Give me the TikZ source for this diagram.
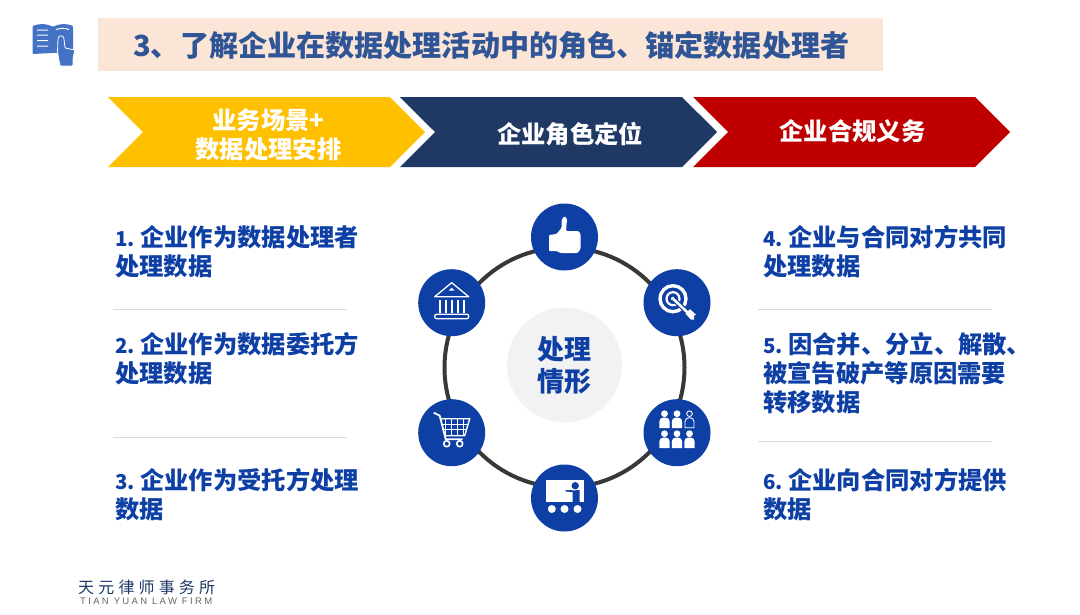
\documentclass[tikz,border=0pt]{standalone}
\usepackage{fontspec}
\setmainfont{Noto Sans CJK SC}
\newfontfamily\logofont[LetterSpace=26]{Noto Sans CJK SC}
\newfontfamily\firmfont[LetterSpace=24.5]{Liberation Sans}
\usetikzlibrary{positioning, shapes.symbols}

\definecolor{titleblue}{HTML}{2F5597}
\definecolor{itemblue}{HTML}{0D3FA5}
\definecolor{bookblue}{HTML}{4472C4}
\definecolor{navy}{HTML}{1F3864}
\definecolor{peach}{HTML}{FBE5D6}
\definecolor{amber}{HTML}{FFC000}

\newcommand{\itemno}[1]{\makebox[25pt][l]{\fontsize{20.5}{29}\selectfont #1}}

\tikzset{
    chevron/.style={signal, signal from=west, signal to=east, signal pointer angle=90,
        minimum width=317pt, minimum height=70pt, inner sep=0pt, outer sep=0pt},
    steptext/.style={inner sep=0pt, text=white, align=center,
        font=\bfseries\fontsize{24.3}{29}\selectfont},
    item/.style={anchor=north west, inner sep=0pt, align=left, text=itemblue,
        font=\bfseries\fontsize{24.3}{29}\selectfont},
    spot/.style={circle, fill=itemblue, minimum size=67pt, inner sep=0pt, outer sep=0pt},
    rule/.style={draw=black!15, line width=0.8pt},
    thumbicon/.pic={
        \fill[white, rounded corners=1pt] (-15.5,-2) -- (-8,-3) -- (-3,-9) -- (-3,-17)
            -- (0,-21) -- (2.5,-18) -- (1.5,-6) -- (14,-6) -- (16,-3) -- (16,12)
            -- (13,16) -- (-4,16) -- (-8,14) -- (-15.5,14) -- cycle;
    },
    bankicon/.pic={
        \draw[white, line width=1.3pt, line join=round] (0,-20) -- (17,-6) -- (-17,-6) -- cycle;
        \fill[white] (0,-15) -- (3,-12) -- (-3,-12) -- cycle;
        \foreach \x in {-12,-6,0,6,12}
            \fill[white] (\x-1.2,-3) rectangle (\x+1.2,10);
        \draw[white, line width=1.3pt, rounded corners=2pt] (-17,11.5) rectangle (17,16);
    },
    targeticon/.pic={
        \draw[white, line width=3.4pt] (-4,-4) circle (13);
        \draw[white, line width=2.2pt] (-4,-4) circle (6.5);
        \fill[white] (-4,-4) circle (2);
        \draw[itemblue, line width=5pt] (-4,-4) -- (10,9);
        \draw[white, line width=2.6pt] (-4,-4) -- (13,12);
        \fill[white] (8.5,11) -- (13,6.5) -- (19,12) -- (17,13) -- (17,17) -- (14,17) -- cycle;
    },
    carticon/.pic={
        \draw[white, line width=1.8pt, line join=round] (-18,-20) -- (-12,-17) -- (-6,6.5) -- (11,6.5);
        \draw[white, line width=1.4pt] (-11,-14) -- (18,-14) -- (13,3) -- (-7,3);
        \foreach \x in {-6,0,6,12}
            \draw[white, line width=1.4pt] (\x,-14) -- (\x,3);
        \draw[white, line width=1.4pt] (-10,-8.5) -- (16.5,-8.5) (-9,-3) -- (15,-3);
        \draw[white, line width=1.6pt] (-5,11) circle (3) (8,11) circle (3);
    },
    peopleicon/.pic={
        \foreach \x/\y in {-12.5/-19,0/-19,-12.5/1,0/1,12.5/1} {
            \fill[white] (\x,\y) circle (3.4);
            \fill[white] (\x-5.2,\y+14.5) [rounded corners=4pt] -- (\x-5.2,\y+3.8) -- (\x+5.2,\y+3.8)
                [sharp corners] -- (\x+5.2,\y+14.5) -- cycle;
        }
        \draw[white, line width=0.9pt] (12.5,-19) circle (2.8);
        \draw[white, line width=0.9pt] (8,-5) [rounded corners=4pt] -- (8,-15) -- (17,-15)
            [sharp corners] -- (17,-5) -- cycle;
    },
    teachicon/.pic={
        \fill[white] (-18.7,-18) rectangle (19,4);
        \fill[itemblue] (10.7,-12.3) circle (3.7);
        \fill[itemblue] (1,-8) -- (7,-8) -- (8,-7.5) -- (15,-8) -- (15,4) -- (8,4) -- (8,-6) -- (1,-6.5) -- cycle;
        \foreach \x in {-12.7,0,13}
            \fill[white] (\x,11) circle (4);
    },
    bookicon/.pic={
        \fill[bookblue, rounded corners=1pt] (32.5,26) .. controls (40,23) and (48,24) .. (53,27)
            .. controls (58,24) and (66,23) .. (73,26) -- (73,52) -- (32.5,54) -- cycle;
        \draw[white, line width=1pt] (37,30) -- (48,30) (37,35) -- (48,35) (37,40.5) -- (48,40.5) (37,46) -- (48,46)
            (56,29.5) .. controls (60,28) and (65,28) .. (69,29.5);
        \fill[bookblue, draw=white, line width=0.8pt, rounded corners=1pt] (60,66) -- (57.5,52) -- (58,39)
            .. controls (59,35) and (63,35) .. (64,39) -- (65,48) -- (75,50) -- (73,58) -- (73,66) -- cycle;
    }
}

\begin{document}
\begin{tikzpicture}[x=1pt, y=-1pt, node distance=292pt]
    \useasboundingbox (0,0) rectangle (1080,614);

    % Header
    \pic at (0,0) {bookicon};
    \node[fill=peach, minimum width=785pt, minimum height=53pt, inner sep=0pt] (titlebar) at (490.5,44.5) {};
    \node[anchor=west, inner sep=0pt, text=titleblue, font=\bfseries\fontsize{29.1}{32}\selectfont] (title) at (133,45) {3、了解企业在数据处理活动中的角色、锚定数据处理者};

    % Three steps
    \node[chevron, fill=amber] (scene) at (266.5,132) {};
    \node[chevron, fill=navy] (role) [right of=scene] {};
    \node[chevron, fill=red!75!black] (duty) [right of=role, xshift=1pt] {};
    \node[steptext] (scenetext) at (268.5,134.5) {业务场景+\\数据处理安排};
    \node[steptext] (roletext) at (570,134) {企业角色定位};
    \node[steptext] (dutytext) at (852.5,131) {企业合规义务};

    % Ring of situations
    \node[circle, draw=black!78, line width=4pt, minimum size=240pt, inner sep=0pt] (ring) at (564.5,367.5) {};
    \node[circle, fill=black!5, minimum size=115pt, inner sep=0pt, text=itemblue, align=center,
        font=\bfseries\fontsize{27}{32}\selectfont] (hub) at (564.5,365) {处理\\情形};
    \node[spot] (top) at (564.5,237) {};
    \node[spot] (upright) at (677,302.7) {};
    \node[spot] (lowright) at (677,432.7) {};
    \node[spot] (bottom) at (564.5,498) {};
    \node[spot] (lowleft) at (451.7,432.7) {};
    \node[spot] (upleft) at (451.7,302.7) {};
    \pic at (top) {thumbicon};
    \pic at (upright) {targeticon};
    \pic at (lowright) {peopleicon};
    \pic at (bottom) {teachicon};
    \pic at (lowleft) {carticon};
    \pic at (upleft) {bankicon};

    % Left list
    \node[item] (itemone) at (115,225.5) {\itemno{1.}企业作为数据处理者\\处理数据};
    \node[item] (itemtwo) at (115,332) {\itemno{2.}企业作为数据委托方\\处理数据};
    \node[item] (itemthree) at (115,468) {\itemno{3.}企业作为受托方处理\\数据};
    \draw[rule] (113,309) -- (347,309);
    \draw[rule] (113,437) -- (347,437);

    % Right list
    \node[item] (itemfour) at (763,225.5) {\itemno{4.}企业与合同对方共同\\处理数据};
    \node[item] (itemfive) at (763,332) {\itemno{5.}因合并、分立、解散、\\被宣告破产等原因需要\\转移数据};
    \node[item] (itemsix) at (763,468) {\itemno{6.}企业向合同对方提供\\数据};
    \draw[rule] (758,309) -- (992,309);
    \draw[rule] (758,441) -- (992,441);

    % Firm name
    \node[anchor=west, inner sep=0pt, text=navy, font=\logofont\fontsize{16}{18}\selectfont] (firm) at (78,587) {天元律师事务所};
    \node[anchor=west, inner sep=0pt, text=black!60, font=\firmfont\fontsize{9.5}{10}\selectfont] (firmen) at (80,601.5) {TIAN YUAN LAW FIRM};
\end{tikzpicture}
\end{document}
